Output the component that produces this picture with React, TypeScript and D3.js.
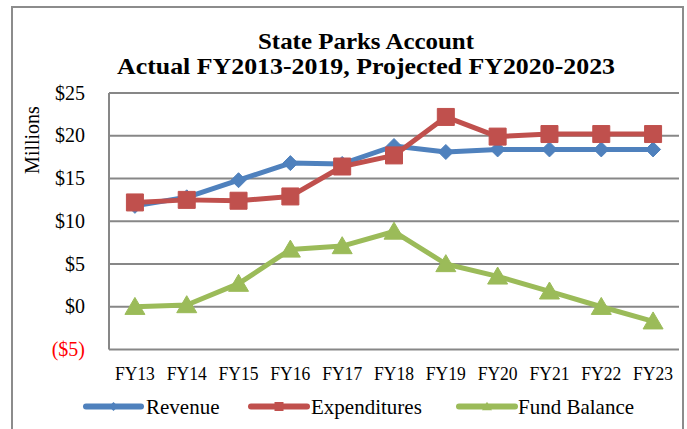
import React from "react";
import * as d3 from "d3";

const categories = ["FY13","FY14","FY15","FY16","FY17","FY18","FY19","FY20","FY21","FY22","FY23"];
const revenue = [11.8, 12.8, 14.8, 16.8, 16.7, 18.8, 18.1, 18.4, 18.4, 18.4, 18.4];
const expenditures = [12.2, 12.5, 12.4, 12.9, 16.4, 17.7, 22.2, 19.9, 20.2, 20.2, 20.2];
const fundBalance = [0.0, 0.2, 2.7, 6.7, 7.1, 8.8, 5.0, 3.55, 1.8, 0.0, -1.7];
const yTicks = [25, 20, 15, 10, 5, 0, -5];
const titleLines = ["State Parks Account", "Actual FY2013-2019, Projected FY2020-2023"];
const seriesNames = ["Revenue", "Expenditures", "Fund Balance"];

const W = 687, H = 429;
const FONT = "'Liberation Serif', 'Times New Roman', serif";
const colors = ["#4F81BD", "#C0504D", "#9BBB59"];

function markerPath(kind: string, cx: number, cy: number, s: number): string {
  if (kind === "diamond") {
    return `M${cx},${cy - s}L${cx + s},${cy}L${cx},${cy + s}L${cx - s},${cy}Z`;
  }
  if (kind === "square") {
    return `M${cx - s},${cy - s}L${cx + s},${cy - s}L${cx + s},${cy + s}L${cx - s},${cy + s}Z`;
  }
  const h = s * 1.7;
  return `M${cx},${cy - h * 0.55}L${cx + s},${cy + h * 0.45}L${cx - s},${cy + h * 0.45}Z`;
}

export default function App() {
  const left = 109, right = 679, top = 93, bottom = 349.5;
  const x = d3.scalePoint<string>().domain(categories).range([left, right]).padding(0.5);
  const y = d3.scaleLinear().domain([-5, 25]).range([bottom, top]);
  const line = d3.line<number>().x((_, i) => x(categories[i]) as number).y((d) => y(d));

  const series = [
    { name: seriesNames[0], values: revenue, color: colors[0], kind: "diamond", size: 7.5 },
    { name: seriesNames[1], values: expenditures, color: colors[1], kind: "square", size: 8.5 },
    { name: seriesNames[2], values: fundBalance, color: colors[2], kind: "triangle", size: 10 },
  ];

  const legendItems = [
    { x1: 86, x2: 141, tx: 146 },
    { x1: 251, x2: 307, tx: 311 },
    { x1: 459, x2: 515, tx: 518 },
  ];
  const legendY = 406.5;

  return (
    <svg width={W} height={H} style={{ position: "absolute", left: 0, top: 0, background: "#fff" }}>
      <rect x={0} y={0} width={W} height={H} fill="#fff" />
      <rect x={12} y={7} width={671} height={440} fill="none" stroke="#8c8c8c" strokeWidth={2} />
      <text x={366} y={48.5} textAnchor="middle" fontFamily={FONT} fontWeight="bold" fontSize={23}
        textLength={216} lengthAdjust="spacingAndGlyphs" fill="#000">{titleLines[0]}</text>
      <text x={366} y={73.5} textAnchor="middle" fontFamily={FONT} fontWeight="bold" fontSize={23}
        textLength={498} lengthAdjust="spacingAndGlyphs" fill="#000">{titleLines[1]}</text>

      {yTicks.map((t) => (
        <g key={t}>
          <line x1={left} x2={right} y1={y(t)} y2={y(t)} stroke="#878787" strokeWidth={2} />
          <text x={85} y={y(t) + 6.5} textAnchor="end" fontFamily={FONT} fontSize={20}
            fill={t < 0 ? "#FF0000" : "#000"}>{t < 0 ? `($${Math.abs(t)})` : `$${t}`}</text>
        </g>
      ))}
      <line x1={left} x2={left} y1={top} y2={bottom} stroke="#878787" strokeWidth={2} />

      <text transform={`translate(39,140) rotate(-90)`} textAnchor="middle" fontFamily={FONT} fontSize={20} fill="#000">Millions</text>

      {categories.map((c) => (
        <text key={c} x={x(c) as number} y={380} textAnchor="middle" fontFamily={FONT} fontSize={19}
          textLength={40} lengthAdjust="spacingAndGlyphs" fill="#000">{c}</text>
      ))}

      {series.map((s) => (
        <g key={s.name}>
          <path d={line(s.values) || ""} fill="none" stroke={s.color} strokeWidth={5} strokeLinejoin="round" />
          {s.values.map((v, i) => (
            <path key={i} d={markerPath(s.kind, x(categories[i]) as number, y(v), s.size)} fill={s.color} stroke={s.color} strokeWidth={1} />
          ))}
        </g>
      ))}

      {series.map((s, i) => {
        const L = legendItems[i];
        const cx = (L.x1 + L.x2) / 2;
        return (
          <g key={"lg" + s.name}>
            <line x1={L.x1} x2={L.x2} y1={legendY} y2={legendY} stroke={s.color} strokeWidth={6} strokeLinecap="round" />
            <path d={markerPath(s.kind, cx, legendY, s.kind === "triangle" ? 5 : 4.5)} fill={s.color} />
            <text x={L.tx} y={legendY + 7} fontFamily={FONT} fontSize={21} fill="#000">{s.name}</text>
          </g>
        );
      })}
    </svg>
  );
}
